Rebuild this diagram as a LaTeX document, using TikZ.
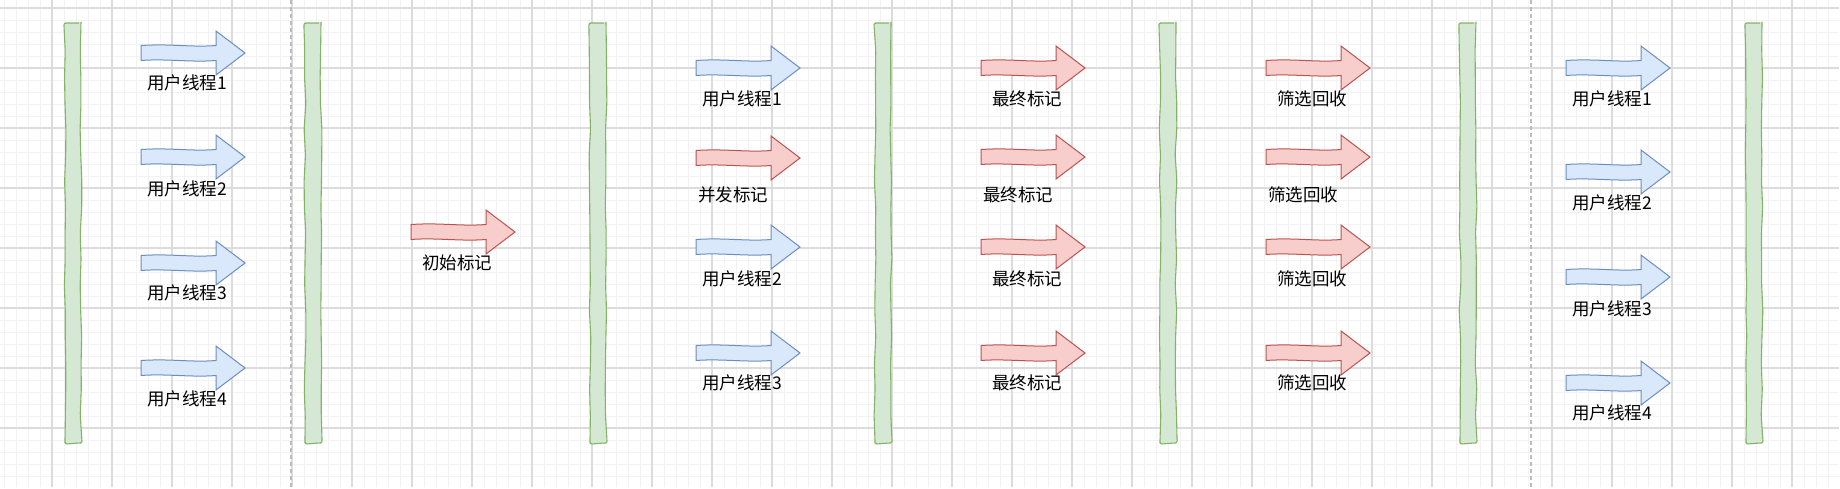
\documentclass[tikz,border=0pt]{standalone}
\usepackage{fontspec}
\newfontfamily\cjk{Noto Sans CJK SC}
\usetikzlibrary{decorations.pathmorphing}
\definecolor{userfill}{HTML}{DAE8FC}
\definecolor{userline}{HTML}{6C8EBF}
\definecolor{gcfill}{HTML}{F8CECC}
\definecolor{gcline}{HTML}{B85450}
\definecolor{barfill}{HTML}{D5E8D4}
\definecolor{barline}{HTML}{82B366}
\definecolor{minorgrid}{HTML}{F2F2F2}
\definecolor{majorgrid}{HTML}{DCDCDC}
\definecolor{sepline}{HTML}{BBBBBB}
\tikzset{
  tharrow/.pic={
    \draw[pic actions] (0,-7.5) .. controls (30,-9.5) and (50,-5.5) .. (75,-7.5) -- (75,-22) -- (104,0) -- (75,22) -- (75,7.5) .. controls (50,9.5) and (25,5.5) .. (0,7.5) -- cycle;
  }
}
\begin{document}
\begin{tikzpicture}[x=1pt,y=-1pt,
  bar/.style={draw=barline,fill=barfill,line width=1.1pt,minimum width=16pt,minimum height=420pt,inner sep=0pt,
    decorate,decoration={random steps,segment length=26pt,amplitude=0.9pt},rounded corners=2pt},
  user/.style={draw=userline,fill=userfill,line width=1pt},
  gc/.style={draw=gcline,fill=gcfill,line width=1pt},
  lbl/.style={font=\cjk\fontsize{17.5}{20}\selectfont,inner sep=0pt},
  sep/.style={draw=sepline,line width=1.2pt,dash pattern=on 4pt off 3pt}]
\pgfmathsetseed{7}
\useasboundingbox[fill=white] (0,0) rectangle (1840,488);
% background grid
\begin{scope}[shift={(52,8)}]
\draw[minorgrid,line width=0.8pt,step=12pt] (-52,-8) grid (1787,479);
\draw[majorgrid,line width=1.1pt,step=60pt] (-52,-8) grid (1787,479);
\end{scope}
\draw[sep] (291,0) -- (291,488);
\draw[sep] (1531,0) -- (1531,488);
% safe points
\node[bar] (b1) at (73,233) {};
\node[bar] (b2) at (313,233) {};
\node[bar] (b3) at (598,233) {};
\node[bar] (b4) at (883,233) {};
\node[bar] (b5) at (1168,233) {};
\node[bar] (b6) at (1468,233) {};
\node[bar] (b7) at (1754,233) {};
% threads before
\pic[user] at (141,53) {tharrow};
\pic[user] at (141,157) {tharrow};
\pic[user] at (141,263) {tharrow};
\pic[user] at (141,368) {tharrow};
\node[lbl] (t11) at (187,83) {用户线程1};
\node[lbl] (t12) at (187,189) {用户线程2};
\node[lbl] (t13) at (187,293) {用户线程3};
\node[lbl] (t14) at (187,399) {用户线程4};
% initial mark
\pic[gc] at (411,232) {tharrow};
\node[lbl] (t21) at (457,263) {初始标记};
% concurrent mark
\pic[user] at (696,68) {tharrow};
\pic[gc] at (696,158) {tharrow};
\pic[user] at (696,247) {tharrow};
\pic[user] at (696,353) {tharrow};
\node[lbl] (t31) at (742,99) {用户线程1};
\node[lbl] (t32) at (733,195) {并发标记};
\node[lbl] (t33) at (742,279) {用户线程2};
\node[lbl] (t34) at (742,383) {用户线程3};
% final mark
\pic[gc] at (981,68) {tharrow};
\pic[gc] at (981,157) {tharrow};
\pic[gc] at (981,247) {tharrow};
\pic[gc] at (981,353) {tharrow};
\node[lbl] (t41) at (1027,99) {最终标记};
\node[lbl] (t42) at (1018,195) {最终标记};
\node[lbl] (t43) at (1027,279) {最终标记};
\node[lbl] (t44) at (1027,383) {最终标记};
% cleanup
\pic[gc] at (1266,68) {tharrow};
\pic[gc] at (1266,157) {tharrow};
\pic[gc] at (1266,247) {tharrow};
\pic[gc] at (1266,353) {tharrow};
\node[lbl] (t51) at (1312,99) {筛选回收};
\node[lbl] (t52) at (1303,195) {筛选回收};
\node[lbl] (t53) at (1312,279) {筛选回收};
\node[lbl] (t54) at (1312,383) {筛选回收};
% threads after
\pic[user] at (1566,68) {tharrow};
\pic[user] at (1566,172) {tharrow};
\pic[user] at (1566,277) {tharrow};
\pic[user] at (1566,383) {tharrow};
\node[lbl] (t61) at (1612,99) {用户线程1};
\node[lbl] (t62) at (1612,203) {用户线程2};
\node[lbl] (t63) at (1612,309) {用户线程3};
\node[lbl] (t64) at (1612,413) {用户线程4};
\end{tikzpicture}
\end{document}
